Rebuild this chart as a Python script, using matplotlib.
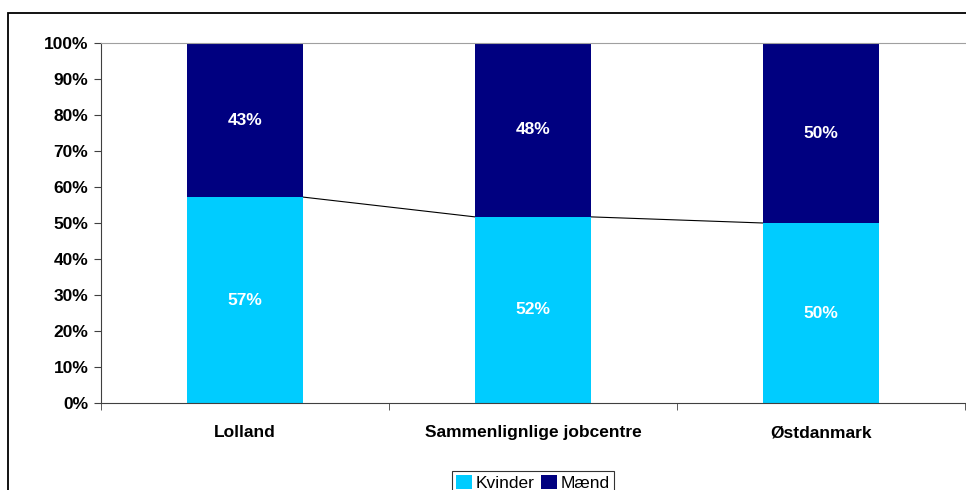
import matplotlib.pyplot as plt
from matplotlib.patches import Rectangle
import numpy as np

plt.rcParams['font.family'] = ['Liberation Sans', 'DejaVu Sans']

categories = ["Lolland", "Sammenlignlige jobcentre", "Østdanmark"]
kvinder = [57.2, 51.7, 50.0]
maend = [42.8, 48.3, 50.0]
kvinderLabels = ["57%", "52%", "50%"]
maendLabels = ["43%", "48%", "50%"]
yTicks = [0, 10, 20, 30, 40, 50, 60, 70, 80, 90, 100]

kvinderColor = "#00CCFF"
maendColor = "#000080"
barWidth = 0.403

fig = plt.figure(figsize=(9.66, 4.9), dpi=100)
W, H = 966, 490

# outer chart frame (Excel-style), runs off the right and bottom edge
fig.patches.append(Rectangle((8 / W, -0.1), 1.2, (H - 13) / H + 0.1,
                             transform=fig.transFigure, fill=False,
                             edgecolor="black", linewidth=1.3))

ax = fig.add_axes([101 / W, (H - 403) / H, 864 / W, 360 / H])
x = np.arange(len(categories))

ax.bar(x, kvinder, width=barWidth, color=kvinderColor, label="Kvinder", zorder=2)
ax.bar(x, maend, width=barWidth, bottom=kvinder, color=maendColor, label="Mænd", zorder=2)

# series lines between bars
for i in range(len(categories) - 1):
    ax.plot([x[i] + barWidth / 2, x[i + 1] - barWidth / 2], [kvinder[i], kvinder[i + 1]],
            color="black", linewidth=0.8, zorder=1)

for i in range(len(categories)):
    ax.text(x[i], kvinder[i] / 2, kvinderLabels[i], ha="center", va="center",
            color="white", fontweight="bold", fontsize=12.5)
    ax.text(x[i], kvinder[i] + maend[i] / 2, maendLabels[i], ha="center", va="center",
            color="white", fontweight="bold", fontsize=12.5)

ax.set_xlim(-0.5, len(categories) - 0.5)
ax.set_ylim(0, 100)
ax.set_yticks(yTicks)
ax.set_yticklabels([f"{t}%" for t in yTicks], fontweight="bold", fontsize=12.5)
ax.set_xticks(x)
ax.set_xticklabels(categories, fontweight="bold", fontsize=12.5)
ax.set_xticks(np.arange(len(categories) + 1) - 0.5, minor=True)
ax.tick_params(axis="x", which="major", length=0, pad=16)
ax.tick_params(axis="x", which="minor", length=5, direction="out", color="#404040")
ax.tick_params(axis="y", length=5, direction="out", color="#404040", pad=4)

ax.spines["right"].set_visible(False)
ax.spines["top"].set_color("#a0a0a0")
ax.spines["left"].set_color("#404040")
ax.spines["bottom"].set_color("#404040")

leg = fig.legend(loc="upper center", bbox_to_anchor=(533 / W, (H - 462) / H), ncol=2,
                 frameon=True, fancybox=False, edgecolor="black", fontsize=12.5,
                 handlelength=0.9, handleheight=0.9, handletextpad=0.2,
                 columnspacing=0.4, borderpad=0.25)
leg.get_frame().set_linewidth(0.8)

fig.savefig("out.png", dpi=100)
